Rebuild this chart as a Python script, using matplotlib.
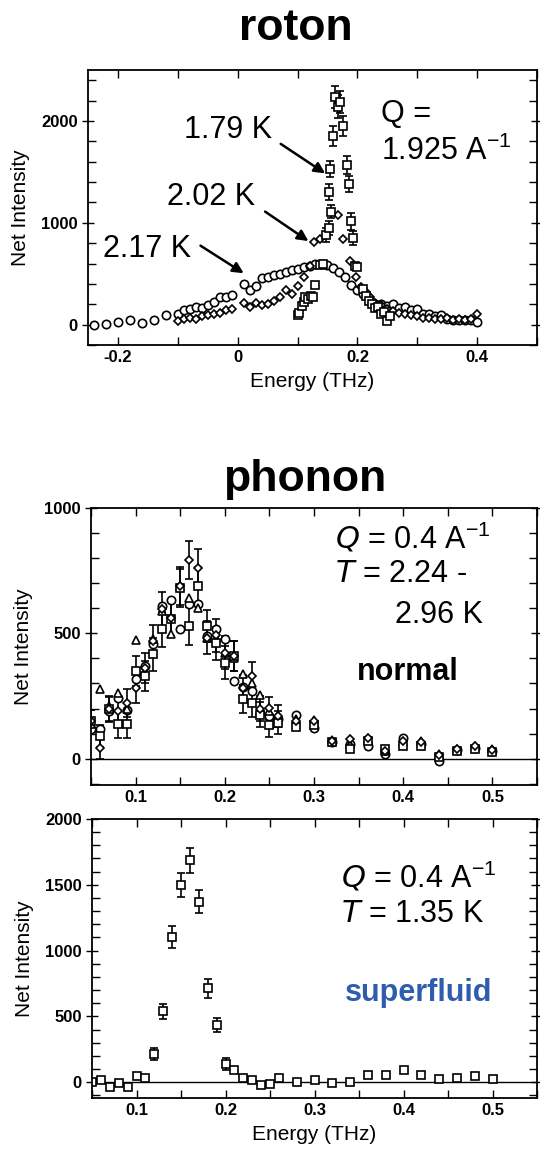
import numpy as np
import matplotlib
matplotlib.use("Agg")
import matplotlib.pyplot as plt
from matplotlib.ticker import MultipleLocator

plt.rcParams['font.family'] = ['Liberation Sans', 'DejaVu Sans']

# ---------------- roton panel (Q = 1.925 A^-1) ----------------
# 2.17 K, circles
circ_x = [-0.24, -0.22, -0.20, -0.18, -0.16, -0.14, -0.12, -0.10, -0.09, -0.08,
          -0.07, -0.06, -0.05, -0.04, -0.03, -0.02, -0.01, 0.01, 0.02, 0.03,
          0.04, 0.05, 0.06, 0.07, 0.08, 0.09, 0.10, 0.11, 0.12, 0.13,
          0.14, 0.15, 0.16, 0.17, 0.18, 0.19, 0.20, 0.21, 0.22, 0.23,
          0.24, 0.25, 0.26, 0.27, 0.28, 0.29, 0.30, 0.31, 0.32, 0.33,
          0.34, 0.35, 0.36, 0.37, 0.38, 0.39, 0.40]
circ_y = [0, 10, 25, 45, 20, 45, 95, 100, 140, 157, 173, 160, 196, 222, 271, 271, 294,
          400, 340, 380, 460, 467, 484, 500, 516, 539, 550, 565, 580, 598, 600,
          590, 560, 516, 467, 386, 337, 304, 250, 206, 206, 180, 206, 160, 170,
          147, 150, 108, 100, 80, 90, 59, 50, 50, 50, 45, 26]

# 2.02 K, diamonds
diam_x = [-0.10, -0.09, -0.08, -0.07, -0.06, -0.05, -0.04, -0.03, -0.02, -0.01,
          0.01, 0.02, 0.03, 0.04, 0.05, 0.06, 0.07, 0.08, 0.09, 0.10,
          0.11, 0.12, 0.128, 0.138, 0.168, 0.176, 0.188, 0.198, 0.206, 0.215,
          0.221, 0.226, 0.23, 0.24, 0.25, 0.26, 0.27, 0.28, 0.29, 0.30,
          0.31, 0.32, 0.33, 0.34, 0.35, 0.36, 0.37, 0.38, 0.39, 0.40]
diam_y = [40, 60, 69, 59, 80, 90, 100, 119, 139, 150,
          208, 178, 208, 188, 198, 230, 267, 336, 300, 376,
          465, 574, 815, 842, 1079, 842, 624, 465, 366, 317,
          267, 208, 210, 190, 150, 130, 110, 100, 90, 80,
          70, 70, 60, 60, 70, 50, 60, 50, 60, 100]

# 1.79 K, squares (with error bars on the peak)
sq_x = [0.100, 0.103, 0.107, 0.110, 0.113, 0.118, 0.122, 0.126, 0.130, 0.138,
        0.142, 0.148, 0.152, 0.156, 0.153, 0.155, 0.160, 0.163, 0.168, 0.171,
        0.176, 0.182, 0.186, 0.189, 0.193, 0.196, 0.200, 0.210, 0.215, 0.220,
        0.225, 0.230, 0.235, 0.240, 0.245, 0.250, 0.255]
sq_y = [90, 110, 180, 220, 270, 250, 280, 270, 390, 590,
        600, 880, 950, 1110, 1300, 1525, 1855, 2235, 2140, 2185,
        1953, 1567, 1383, 1013, 848, 580, 570, 350, 280, 230,
        200, 160, 170, 100, 120, 40, 80]
sq_err = [0, 0, 0, 0, 0, 0, 0, 0, 0, 0,
          0, 70, 70, 60, 80, 80, 100, 110, 110, 110,
          100, 90, 80, 80, 70, 0, 0, 0, 0, 0,
          0, 0, 0, 0, 0, 0, 0]

# ---------------- phonon, normal (Q = 0.4 A^-1, T = 2.24 - 2.96 K) ----------------
norm_x = [0.05, 0.06, 0.07, 0.08, 0.09, 0.10, 0.11, 0.12, 0.13, 0.14,
          0.15, 0.16, 0.17, 0.18, 0.19, 0.20, 0.21, 0.22, 0.23, 0.24,
          0.25, 0.26, 0.28, 0.30, 0.32, 0.34, 0.36, 0.38, 0.40, 0.42,
          0.44, 0.46, 0.48, 0.50]
norm_circ = [117, 117, 190, 243, 194, 316, 370, 456, 609, 632,
             516, 616, 616, 489, 516, 476, 310, 287, 270, 181,
             170, 157, 173, 124, 65, 60, 50, 17, 84, 60,
             -9, 35, 44, 31]
norm_sq = [150, 90, 200, 137, 137, 350, 330, 416, 516, 556,
           682, 529, 689, 529, 460, 383, 410, 237, 223, 175,
           133, 144, 128, 135, 65, 40, 70, 37, 50, 50,
           5, 30, 40, 28]
norm_diam = [150, 44, 197, 190, 223, 283, 360, 470, 596, 560,
             689, 793, 761, 483, 492, 423, 410, 280, 330, 200,
             203, 170, 150, 150, 70, 77, 84, 30, 70, 65,
             15, 37, 50, 35]
norm_tri = [140, 277, 210, 263, 200, 472, 350, 479, 590, 496,
            690, 642, 600, 480, 480, 420, 400, 336, 300, 253,
            190, 175, 160, 153, 75, 60, 80, 30, 65, 70,
            20, 40, 52, 38]
norm_err = [45, 45, 50, 55, 55, 60, 60, 65, 70, 70,
            75, 75, 75, 65, 65, 65, 60, 55, 55, 50,
            45, 45, 0, 0, 0, 0, 0, 0, 0, 0,
            0, 0, 0, 0]

# ---------------- phonon, superfluid (Q = 0.4 A^-1, T = 1.35 K) ----------------
sf_x = [0.05, 0.06, 0.07, 0.08, 0.09, 0.10, 0.11, 0.12, 0.13, 0.14,
        0.15, 0.16, 0.17, 0.18, 0.19, 0.20, 0.21, 0.22, 0.23, 0.24,
        0.25, 0.26, 0.28, 0.30, 0.32, 0.34, 0.36, 0.38, 0.40, 0.42,
        0.44, 0.46, 0.48, 0.50]
sf_y = [0, 18, -38, -8, -33, 44, 31, 213, 538, 1103,
        1500, 1685, 1372, 713, 436, 136, 90, 33, 20, -18,
        -13, 31, 0, 20, -8, 5, 51, 56, 90, 56,
        26, 31, 44, 26]
sf_err = [0, 0, 0, 0, 0, 0, 0, 45, 60, 85,
          90, 95, 90, 70, 55, 45, 0, 0, 0, 0,
          0, 0, 0, 0, 0, 0, 0, 0, 0, 0,
          0, 0, 0, 0]

W, H = 540, 1152
fig = plt.figure(figsize=(W / 100, H / 100), dpi=100)


def box(l, t, r, b):
    # axes from pixel edges
    return fig.add_axes([l / W, 1 - b / H, (r - l) / W, (b - t) / H])


def style(ax, xmaj, xmin, ymaj, ymin):
    ax.xaxis.set_major_locator(MultipleLocator(xmaj))
    ax.xaxis.set_minor_locator(MultipleLocator(xmin))
    ax.yaxis.set_major_locator(MultipleLocator(ymaj))
    ax.yaxis.set_minor_locator(MultipleLocator(ymin))
    ax.tick_params(which='both', direction='in', top=True, right=True,
                   width=1.0, length=6)
    ax.tick_params(axis='y', which='major', direction='inout', length=8)
    for lab in ax.get_xticklabels() + ax.get_yticklabels():
        lab.set_fontweight('bold')
        lab.set_fontsize(12)
    for sp in ax.spines.values():
        sp.set_linewidth(1.3)


def fmt(v, pos):
    if abs(v) < 1e-9:
        return '0'
    return f'{v:g}'.replace('\u2212', '-')


inv_A = 'A$^{\\mathregular{-1}}$'
mk = dict(linestyle='none', mfc='white', mec='black', mew=1.2, color='black')
eb = dict(mfc='white', mec='black', mew=1.2, ecolor='black', elinewidth=1.2, capsize=3)

# ---- roton ----
ax1 = box(88, 70, 537, 345)
ax1.plot(circ_x, circ_y, marker='o', ms=6, **mk)
ax1.plot(diam_x, diam_y, marker='D', ms=4.5, **mk)
ax1.errorbar(sq_x, sq_y, yerr=sq_err, fmt='s', ms=5.5, **eb)
ax1.set_xlim(-0.25, 0.5)
ax1.set_ylim(-200, 2500)
style(ax1, 0.2, 0.1, 1000, 200)
ax1.xaxis.set_major_formatter(plt.FuncFormatter(fmt))
ax1.set_xlabel('Energy (THz)', fontsize=15, labelpad=5)
ax1.set_ylabel('Net Intensity', fontsize=15, labelpad=8)

ax1.text(-0.09, 1910, '1.79 K', fontsize=22, va='center')
ax1.text(-0.118, 1250, '2.02 K', fontsize=22, va='center')
ax1.text(-0.225, 745, '2.17 K', fontsize=22, va='center')
ax1.text(0.24, 2070, 'Q =', fontsize=22, va='center')
ax1.text(0.24, 1700, '1.925 ' + inv_A, fontsize=22, va='center')
arrow = dict(arrowstyle='-|>', color='black', lw=1.8, mutation_scale=16)
ax1.annotate('', xy=(0.150, 1470), xytext=(0.068, 1790), arrowprops=arrow)
ax1.annotate('', xy=(0.122, 805), xytext=(0.042, 1125), arrowprops=arrow)
ax1.annotate('', xy=(0.014, 490), xytext=(-0.066, 790), arrowprops=arrow)

fig.text(296 / W, 1 - 28 / H, 'roton', fontsize=32, fontweight='bold',
         ha='center', va='center')

# ---- phonon normal ----
ax2 = box(91, 508, 537, 785)
ax2.axhline(0, color='black', lw=1.0)
ax2.errorbar(norm_x, norm_sq, yerr=norm_err, fmt='s', ms=5.5, **eb)
ax2.errorbar(norm_x, norm_diam, yerr=norm_err, fmt='D', ms=4.5, **eb)
ax2.plot(norm_x, norm_circ, marker='o', ms=6, **mk)
ax2.plot(norm_x, norm_tri, marker='^', ms=5.5, **mk)
ax2.set_xlim(0.05, 0.55)
ax2.set_ylim(-105, 1000)
style(ax2, 0.1, 0.05, 500, 100)
ax2.xaxis.set_major_formatter(plt.FuncFormatter(fmt))
ax2.set_ylabel('Net Intensity', fontsize=15, labelpad=8)

ax2.text(0.323, 880, '$\\it{Q}$ = 0.4 ' + inv_A, fontsize=22, va='center')
ax2.text(0.323, 735, '$\\it{T}$ = 2.24 -', fontsize=22, va='center')
ax2.text(0.49, 575, '2.96 K', fontsize=22, va='center', ha='right')
ax2.text(0.405, 345, 'normal', fontsize=22, fontweight='bold', va='center', ha='center')

fig.text(305 / W, 1 - 479 / H, 'phonon', fontsize=32, fontweight='bold',
         ha='center', va='center')

# ---- phonon superfluid ----
ax3 = box(92, 819, 537, 1098)
ax3.axhline(0, color='black', lw=1.0)
ax3.errorbar(sf_x, sf_y, yerr=sf_err, fmt='s', ms=5.5, **eb)
ax3.set_xlim(0.05, 0.55)
ax3.set_ylim(-120, 2000)
style(ax3, 0.1, 0.05, 500, 100)
ax3.xaxis.set_major_formatter(plt.FuncFormatter(fmt))
ax3.set_xlabel('Energy (THz)', fontsize=15, labelpad=5)
ax3.set_ylabel('Net Intensity', fontsize=15, labelpad=8)

ax3.text(0.33, 1560, '$\\it{Q}$ = 0.4 ' + inv_A, fontsize=22, va='center')
ax3.text(0.33, 1280, '$\\it{T}$ = 1.35 K', fontsize=22, va='center')
ax3.text(0.417, 680, 'superfluid', fontsize=22, fontweight='bold', color='#2F5DAE',
         va='center', ha='center')

fig.savefig('out.png', dpi=100)
